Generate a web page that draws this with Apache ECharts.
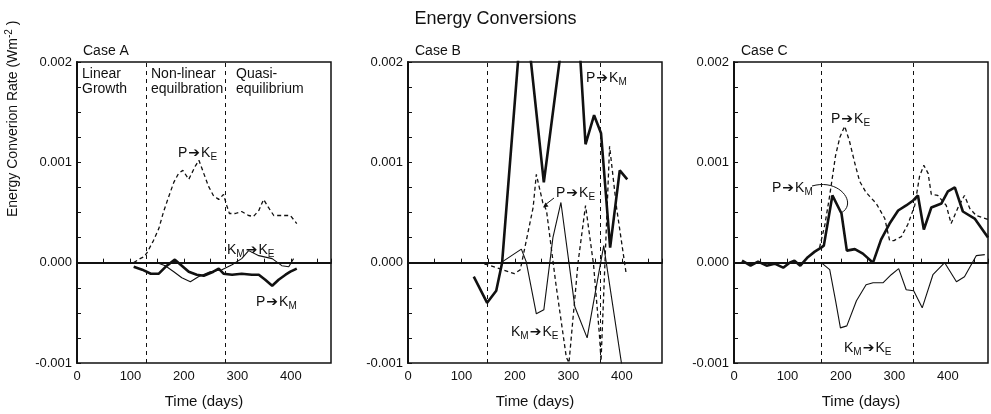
<!DOCTYPE html>
<html>
<head>
<meta charset="utf-8">
<title>Energy Conversions</title>
<script src="https://cdn.jsdelivr.net/npm/echarts@6/dist/echarts.min.js"></script>
<style>
html, body { margin: 0; padding: 0; background: #fff; }
#chart { width: 991px; height: 414px; }
</style>
</head>
<body>
<div id="chart"></div>
<script>
// values: [day, rate in 10^-3 W m^-2]
var UNIT = 0.001;

// Case A
var aPtoKE = [[106,0],[118,0.04],[126,0.06],[131,0.10],[143,0.22],[153,0.34],[162,0.51],[171,0.65],[181,0.80],[190,0.89],[198,0.92],[209,0.83],[221,0.96],[228,1.02],[237,0.89],[246,0.76],[255,0.67],[265,0.63],[274,0.68],[280,0.57],[285,0.49],[296,0.49],[308,0.51],[321,0.47],[330,0.46],[340,0.52],[349,0.63],[358,0.55],[368,0.47],[383,0.47],[399,0.47],[411,0.39]];
var aPtoKM = [[106,-0.04],[122,-0.07],[138,-0.11],[153,-0.11],[168,-0.03],[183,0.03],[196,-0.03],[209,-0.09],[224,-0.12],[237,-0.13],[255,-0.09],[265,-0.06],[274,-0.11],[290,-0.12],[308,-0.11],[327,-0.12],[340,-0.12],[352,-0.17],[365,-0.23],[377,-0.17],[390,-0.12],[399,-0.09],[411,-0.06]];
var aKMtoKE = [[150,0],[165,-0.03],[181,-0.09],[196,-0.15],[212,-0.19],[227,-0.14],[249,-0.09],[271,-0.07],[290,-0.02],[308,0.04],[321,0.12],[340,0.07],[365,0.04],[383,-0.03],[396,-0.04],[405,0.04]];
var aPhases = [130, 278];

// Case B
var bPtoKE = [[130,0],[148,-0.02],[171,-0.06],[199,-0.11],[210,-0.07],[234,0.55],[240,0.88],[252,0.60],[259,0.52],[277,-0.23],[296,-0.94],[301,-1.0],[318,0],[332,0.57],[347,-0.02],[358,-0.72],[361,-0.98],[377,1.16],[390,0.55],[408,-0.11]];
var bPtoKM = [[123,-0.14],[148,-0.40],[165,-0.28],[176,0],[216,2.7],[254,0.80],[310,3.1],[332,1.18],[348,1.47],[361,1.29],[378,0.15],[396,0.92],[410,0.83]];
var bKMtoKE = [[174,0],[212,0.135],[221,0.01],[240,-0.51],[254,-0.47],[271,0.25],[286,0.60],[312,-0.44],[335,-0.75],[366,0.17],[400,-1.03]];
var bPhases = [148, 359];

// Case C
var cPtoKE = [[160,0.15],[170,0.38],[179,0.67],[190,1.07],[198,1.25],[207,1.36],[216,1.21],[226,0.99],[235,0.81],[247,0.70],[266,0.59],[282,0.44],[291,0.22],[299,0.22],[313,0.26],[325,0.38],[338,0.57],[347,0.86],[355,0.97],[363,0.89],[369,0.68],[381,0.67],[397,0.57],[406,0.39],[419,0.55],[431,0.67],[441,0.54],[453,0.47],[475,0.43]];
var cPtoKM = [[15,0.02],[31,-0.03],[45,0.01],[61,-0.03],[76,-0.01],[92,-0.05],[104,0],[113,0.02],[124,-0.03],[138,0.055],[151,0.11],[163,0.15],[168,0.17],[184,0.67],[201,0.49],[211,0.12],[226,0.135],[241,0.09],[260,0],[275,0.23],[291,0.39],[307,0.52],[322,0.57],[335,0.62],[344,0.67],[355,0.33],[369,0.55],[388,0.59],[400,0.71],[413,0.75],[428,0.51],[450,0.44],[475,0.25]];
var cKMtoKE = [[163,0],[179,-0.07],[190,-0.38],[199,-0.65],[211,-0.63],[229,-0.38],[247,-0.22],[260,-0.20],[279,-0.20],[294,-0.12],[308,-0.06],[322,-0.27],[336,-0.28],[352,-0.45],[372,-0.12],[394,0],[416,-0.19],[431,-0.14],[453,0.07],[469,0.08]];
var cPhases = [164, 336];

var caseNames = ["Case A", "Case B", "Case C"];
var gridLefts = [77, 408, 734];

var FF = '"Liberation Sans", Arial, Helvetica, sans-serif';
var INK = "#111";

var chart = echarts.init(document.getElementById("chart"));

function scaled(arr) {
  return arr.map(function (p) { return [p[0], p[1] * UNIT]; });
}

// 细线 / 粗线 / 虚线
var styles = {
  thin: { color: INK, width: 1.1 },
  thick: { color: INK, width: 2.6 },
  dash: { color: INK, width: 1.3, type: [4, 3] }
};

function line(data, i, kind, phases) {
  var s = {
    type: "line",
    xAxisIndex: i,
    yAxisIndex: i,
    data: scaled(data),
    symbol: "none",
    clip: true,
    silent: true,
    lineStyle: styles[kind],
    z: kind == "thick" ? 4 : 3
  };
  if (phases) {
    s.markLine = {
      silent: true,
      symbol: ["none", "none"],
      label: { show: false },
      animation: false,
      data: [
        { yAxis: 0, lineStyle: { color: INK, width: 1, type: "solid" } },
        { xAxis: phases[0], lineStyle: { color: INK, width: 1, type: [4, 4] } },
        { xAxis: phases[1], lineStyle: { color: INK, width: 1, type: [4, 4] } }
      ]
    };
  }
  return s;
}

var grids = [], xAxes = [], yAxes = [];
gridLefts.forEach(function (left, i) {
  grids.push({ left: left, top: 62, width: 254, height: 310, show: true, borderColor: INK, borderWidth: 1.5 });
  xAxes.push({
    type: "value", gridIndex: i, min: 0, max: 475, interval: 50,
    name: "Time (days)", nameLocation: "middle", nameGap: 31,
    nameTextStyle: { fontSize: 15, color: INK, fontFamily: FF },
    axisLine: { show: true, lineStyle: { color: INK, width: 2 } },
    axisTick: { inside: true, length: 4, lineStyle: { color: INK } },
    axisLabel: {
      fontSize: 13, color: INK, fontFamily: FF, margin: 7,
      formatter: function (v) { return v % 100 === 0 ? String(v) : ""; }
    },
    splitLine: { show: false }
  });
  yAxes.push({
    type: "value", gridIndex: i, min: -0.001, max: 0.002, interval: 0.00025,
    axisLine: { show: true, lineStyle: { color: INK, width: 2 } },
    axisTick: { inside: true, length: 4, lineStyle: { color: INK } },
    axisLabel: {
      fontSize: 13, color: INK, fontFamily: FF, margin: 5,
      formatter: function (v) {
        var k = v * 1000;
        return Math.abs(k - Math.round(k)) < 1e-6 ? (Math.round(k) / 1000).toFixed(3) : "";
      }
    },
    splitLine: { show: false }
  });
});

var rich = {
  t: { fontSize: 14, fontFamily: FF, lineHeight: 16 },
  s: { fontSize: 10, fontFamily: FF, lineHeight: 10, padding: [9, 0, 0, 0] },
  r: { fontSize: 14, fontFamily: '"DejaVu Sans", sans-serif', fontWeight: "bold", lineHeight: 16, padding: [0, 1, 0, 1] },
  n: { fontSize: 14, fontFamily: FF, lineHeight: 16 },
  sup: { fontSize: 10, fontFamily: FF, lineHeight: 10, padding: [0, 0, 8, 0] }
};

function txt(x, y, text, size, extra) {
  var style = {
    text: text, fill: INK, fontSize: size, fontFamily: FF,
    align: "left", textAlign: "left", verticalAlign: "middle", textVerticalAlign: "middle",
    lineHeight: 15, rich: rich
  };
  return Object.assign({ type: "text", x: x, y: y, silent: true, style: style }, extra || {});
}

var PtoKE = "{t|P}{r|➔}{t|K}{s|E}";
var PtoKM = "{t|P}{r|➔}{t|K}{s|M}";
var KMtoKE = "{t|K}{s|M}{r|➔}{t|K}{s|E}";

var labels = [
  txt(83, 51, caseNames[0], 14),
  txt(415, 51, caseNames[1], 14),
  txt(741, 51, caseNames[2], 14),
  txt(82, 82, "Linear\nGrowth", 14),
  txt(151, 82, "Non-linear\nequilbration", 14),
  txt(236, 82, "Quasi-\nequilibrium", 14),
  txt(178, 153, PtoKE, 14),
  txt(227, 250, KMtoKE, 14),
  txt(256, 302, PtoKM, 14),
  txt(586, 78, PtoKM, 14),
  txt(556, 193, PtoKE, 14),
  txt(511, 332, KMtoKE, 14),
  txt(831, 119, PtoKE, 14),
  txt(772, 188, PtoKM, 14),
  txt(844, 348, KMtoKE, 14),
  txt(13, 217, "{n|Energy Converion Rate (Wm}{sup|-2}{n| )}", 14, { rotation: Math.PI / 2 }),
  // pointer for Case B P->KE
  { type: "line", silent: true, shape: { x1: 554, y1: 198, x2: 545, y2: 205 }, style: { stroke: INK, lineWidth: 1 } },
  { type: "polygon", silent: true, shape: { points: [[543, 207.5], [548.5, 206.4], [545.5, 202.4]] }, style: { fill: INK } },
  // curved pointer for Case C P->KM
  { type: "bezierCurve", silent: true, shape: { x1: 812, y1: 186, cpx1: 840, cpy1: 178, cpx2: 858, cpy2: 204, x2: 841, y2: 213 }, style: { stroke: INK, lineWidth: 1, fill: null } }
];

chart.setOption({
  animation: false,
  backgroundColor: "#fff",
  title: {
    text: "Energy Conversions", left: "center", top: 5,
    textStyle: { fontSize: 18, fontWeight: "normal", color: INK, fontFamily: FF }
  },
  grid: grids,
  xAxis: xAxes,
  yAxis: yAxes,
  graphic: labels,
  series: [
    line(aKMtoKE, 0, "thin", aPhases),
    line(aPtoKE, 0, "dash"),
    line(aPtoKM, 0, "thick"),
    line(bKMtoKE, 1, "thin", bPhases),
    line(bPtoKE, 1, "dash"),
    line(bPtoKM, 1, "thick"),
    line(cKMtoKE, 2, "thin", cPhases),
    line(cPtoKE, 2, "dash"),
    line(cPtoKM, 2, "thick")
  ]
});
</script>
</body>
</html>
